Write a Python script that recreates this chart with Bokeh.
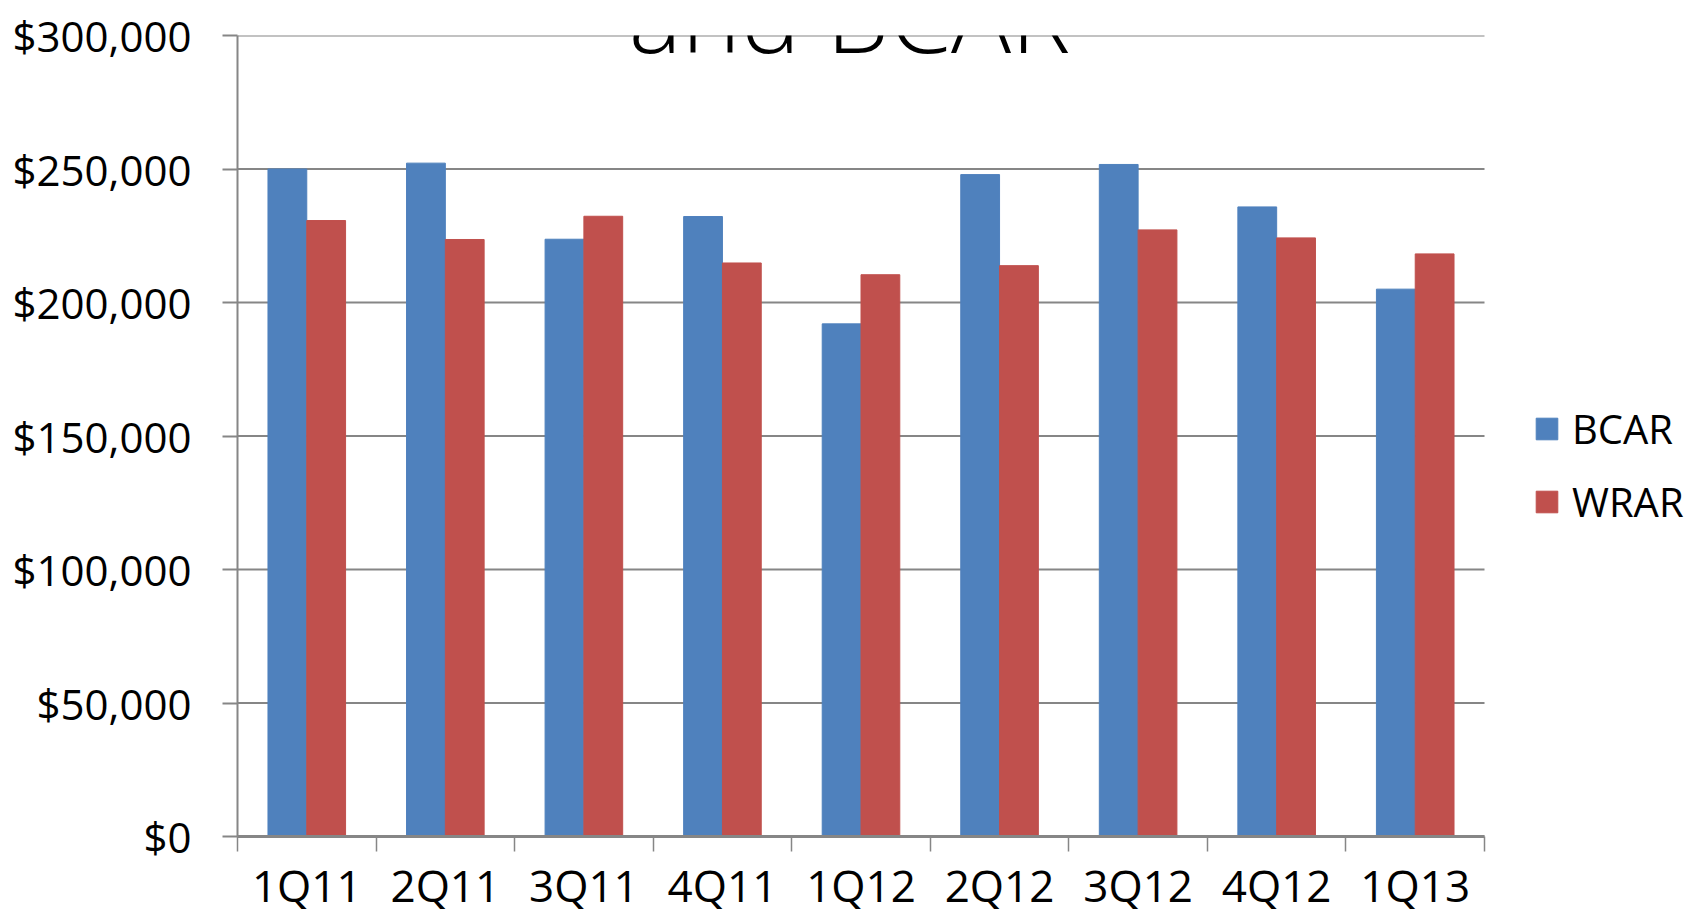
from bokeh.plotting import figure
from bokeh.models import (ColumnDataSource, FixedTicker, NumeralTickFormatter, Legend, LegendItem, Label, Range1d)
from bokeh.transform import dodge
from bokeh.embed import file_html
from bokeh.resources import INLINE

quarters = ["1Q11", "2Q11", "3Q11", "4Q11", "1Q12", "2Q12", "3Q12", "4Q12", "1Q13"]
bcar = [250000, 252200, 223700, 232200, 192000, 247900, 251700, 235800, 205000]
wrar = [230700, 223600, 232300, 214800, 210400, 213800, 227200, 224200, 218200]
y_ticks = [0, 50000, 100000, 150000, 200000, 250000, 300000]

FONT = "Open Sans"
GRID = "#868686"

W, H = 1698, 917
LEFT, TOP, BOTTOM = 237, 35, 80
PLOT_W = 1247  # width of the bar area; the frame extends to the right edge to hold the legend
n = len(quarters)
x_end = n * (W - LEFT) / PLOT_W

xpos = [i + 0.5 for i in range(n)]
src = ColumnDataSource(dict(x=xpos, bcar=bcar, wrar=wrar, q=quarters))

p = figure(width=W, height=H, output_backend="svg", toolbar_location=None,
           x_range=Range1d(0, x_end), y_range=Range1d(0, 300000),
           min_border_left=LEFT, min_border_right=0, min_border_top=TOP, min_border_bottom=BOTTOM)
p.outline_line_color = None

# horizontal gridlines limited to the category span
p.segment(x0=0, x1=n, y0=y_ticks, y1=y_ticks, line_color=GRID, line_width=2, level="underlay")

r1 = p.vbar(x=dodge("x", -0.14, range=p.x_range), top="bcar", width=0.28, source=src,
            fill_color="#4F81BD", line_color="#4F81BD")
r2 = p.vbar(x=dodge("x", 0.14, range=p.x_range), top="wrar", width=0.28, source=src,
            fill_color="#C0504D", line_color="#C0504D")

# x axis: labels at category centers, tick marks at category boundaries
xa = p.xaxis[0]
xa.bounds = (0, n)
xa.ticker = FixedTicker(ticks=xpos, minor_ticks=list(range(n + 1)))
xa.major_label_overrides = {x: q for x, q in zip(xpos, quarters)}
xa.major_tick_out = 0
xa.major_tick_in = 0
xa.minor_tick_out = 15
xa.minor_tick_in = 0
xa.minor_tick_line_color = GRID
xa.minor_tick_line_width = 1.5
xa.axis_line_color = GRID
xa.axis_line_width = 3
xa.major_label_text_font = FONT
xa.major_label_text_font_size = "44px"
xa.major_label_text_color = "black"
xa.major_label_standoff = 3

ya = p.yaxis[0]
ya.ticker = FixedTicker(ticks=y_ticks)
ya.formatter = NumeralTickFormatter(format="$0,0")
ya.major_tick_out = 15
ya.major_tick_in = 0
ya.minor_tick_line_color = None
ya.major_tick_line_color = GRID
ya.major_tick_line_width = 2
ya.axis_line_color = GRID
ya.axis_line_width = 2
ya.major_label_text_font = FONT
ya.major_label_text_font_size = "42px"
ya.major_label_text_color = "black"
ya.major_label_standoff = 31

p.xgrid.grid_line_color = None
p.ygrid.grid_line_color = None

legend = Legend(items=[LegendItem(label="BCAR", renderers=[r1]),
                       LegendItem(label="WRAR", renderers=[r2])],
                location=(1296, 307), orientation="vertical",
                glyph_width=27, glyph_height=27, label_height=27, spacing=18,
                label_standoff=12, padding=0, margin=0,
                label_text_font=FONT, label_text_font_size="40px", label_text_color="black",
                border_line_color=None, background_fill_alpha=0)
p.add_layout(legend, "center")

title = Label(x=n / 2, y=300000, x_offset=-4, y_offset=22, text="and BCAR",
              text_font=FONT, text_font_size="100px", text_align="center",
              text_baseline="alphabetic", text_color="black")
p.add_layout(title)

open("out.html", "w").write(file_html(p, INLINE))
